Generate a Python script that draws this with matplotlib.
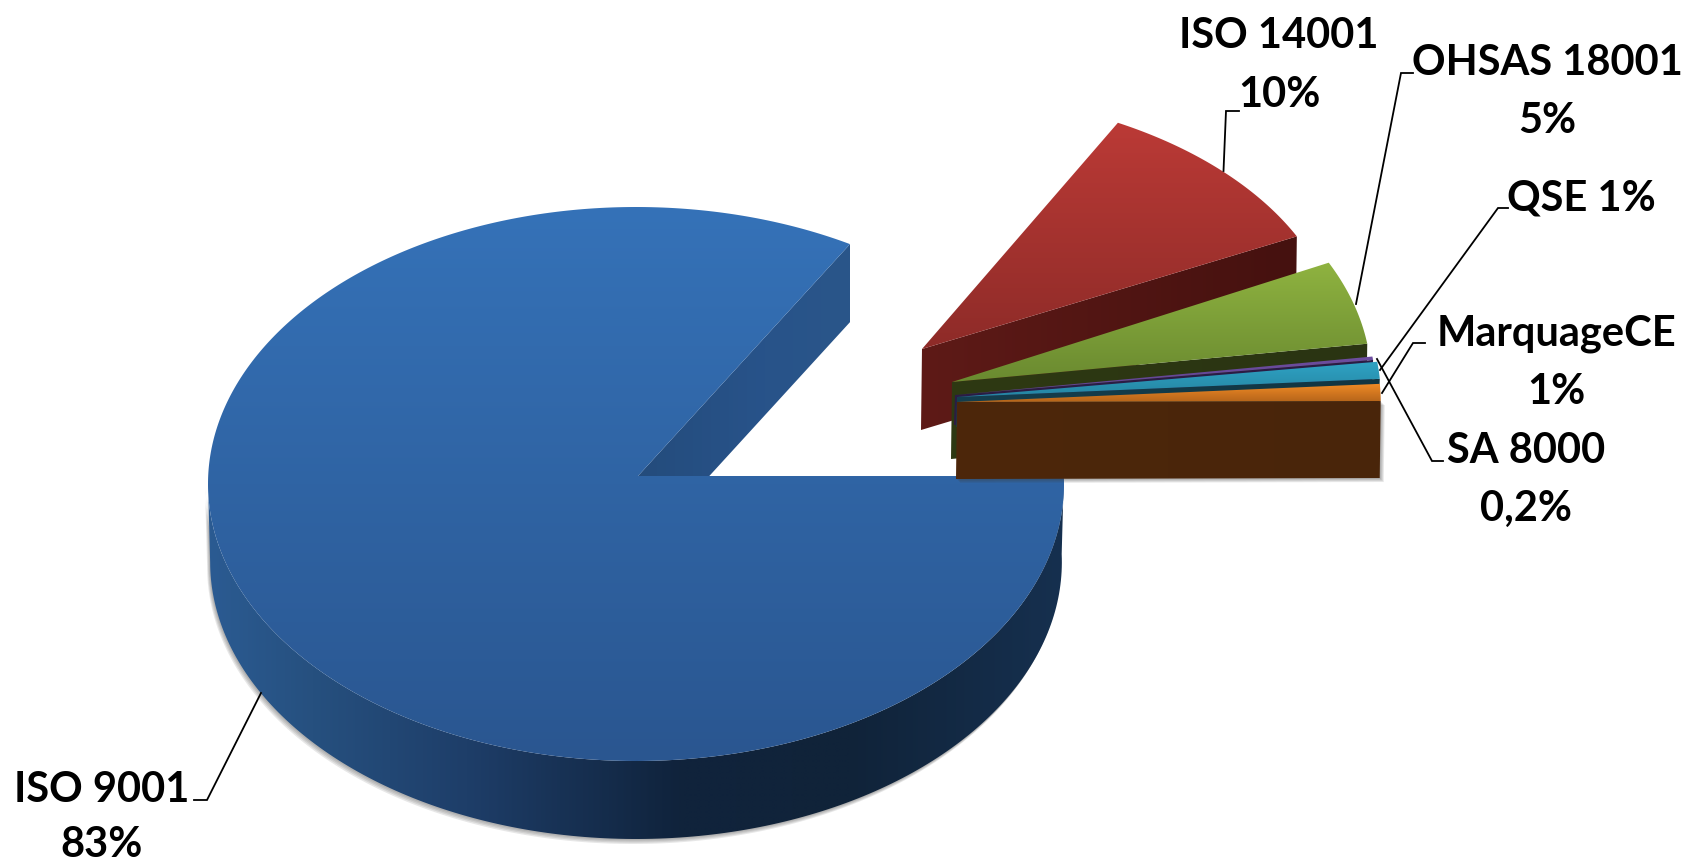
import numpy as np
import matplotlib
matplotlib.use("Agg")
import matplotlib.pyplot as plt
from matplotlib.colors import LinearSegmentedColormap
from matplotlib.patches import Polygon

# chart data, in the order of the slices
labels = ['ISO 9001', 'ISO 14001', 'OHSAS 18001', 'SA 8000', 'QSE', 'MarquageCE']
values = [83, 10, 5, 0.2, 1, 1]
value_labels = ['83%', '10%', '5%', '0,2%', '1%', '1%']

# look of the 3D pie, in image pixels
CX, CY = 636, 484
RX, RY = 428, 277
DEPTH = 78

plt.rcParams['font.family'] = ['Lato', 'DejaVu Sans']

fig = plt.figure(figsize=(16.86, 8.64), dpi=100)
ax = fig.add_axes([0, 0, 1, 1])
ax.set_xlim(0, 1686)
ax.set_ylim(864, 0)
ax.axis('off')
ax.autoscale(False)

z = [1]


def next_z():
    z[0] += 1
    return z[0]


def arc(x0, y0, a1, a2, sx=1.0, sy=1.0, n=200):
    t = np.radians(np.linspace(a1, a2, n))
    return np.column_stack([x0 + sx * RX * np.cos(t), y0 - sy * RY * np.sin(t)])


def fill_gradient(verts, stops, vertical=True):
    verts = np.asarray(verts)
    zo = next_z()
    poly = Polygon(verts, closed=True, fc='none', ec='none', zorder=zo)
    ax.add_patch(poly)
    cmap = LinearSegmentedColormap.from_list('g', stops)
    grad = np.linspace(0, 1, 400)
    grad = grad.reshape(-1, 1) if vertical else grad.reshape(1, -1)
    x0, y0 = verts.min(axis=0)
    x1, y1 = verts.max(axis=0)
    im = ax.imshow(grad, cmap=cmap, extent=[x0, x1, y1, y0], aspect='auto',
                   origin='upper', zorder=zo, interpolation='bilinear')
    im.set_clip_path(poly)


def shadow(verts, dx, dy):
    verts = np.asarray(verts)
    for k in range(1, 5):
        ax.add_patch(Polygon(verts + [dx * k / 4, dy * k / 4], closed=True, fc='#404040',
                             ec='none', alpha=0.12, zorder=next_z()))


total = sum(values)
sweeps = [v / total * 360 for v in values]

# big slice, it starts top right and runs counter clockwise on the picture
main_start = 60
main_end = 361.65
apex = np.array([638, 476])
tip = arc(CX, CY, main_start, main_start, n=1)[0]

rim_top = arc(CX, CY, 180, main_end)
rim_bottom = arc(CX, CY + DEPTH, main_end, 180, sx=0.995)
rim = np.vstack([rim_top, rim_bottom])
shadow(rim, -3, 5)

# wall of the cut, hidden in part by the top face
fill_gradient([apex, tip, tip + [0, DEPTH], apex + [0, DEPTH]],
              [(0, '#244c7c'), (0.6, '#28538a'), (1, '#2a5689')], vertical=False)
fill_gradient(rim, [(0, '#2b5b92'), (0.12, '#26507f'), (0.3, '#1e3e69'), (0.55, '#10233c'),
                    (0.75, '#102339'), (1, '#16304f')], vertical=False)
top = np.vstack([[apex], arc(CX, CY, main_start, main_end, n=400)])
fill_gradient(top, ['#3572b8', '#2a5690'])

# exploded slices: apex, scale and colours
slice_apex = [(922, 349), (952, 382), (955, 395), (957, 397), (957, 402)]
slice_sx = [0.975, 0.98, 0.985, 0.99, 0.99]
slice_sy = [0.925, 0.98, 0.985, 0.99, 0.99]
slice_depth = [81, 77, 30, 30, 77]
top_colors = [('#bb3a36', '#8e2b28'), ('#8fb340', '#6a8a30'), ('#6e4ea0', '#5e4290'),
              ('#2fa3c4', '#2585a2'), ('#f28c26', '#b5641a')]
wall_colors = [('#5e1a17', '#45110f'), ('#2e3913', '#2a3412'), ('#2b1c44', '#2b1c44'),
               ('#143f4f', '#123541'), ('#4d270b', '#49250a')]

angle = 62.0
for i in range(1, len(values)):
    a1 = angle
    a2 = angle - sweeps[i]
    angle = a2
    j = i - 1
    p = np.array(slice_apex[j], dtype=float)
    d = slice_depth[j]
    outer = arc(p[0], p[1], a1, a2, sx=slice_sx[j], sy=slice_sy[j], n=80)
    end = outer[-1]
    wall = [p, end, end + [-1, d], p + [-1, d]]
    if i == len(values) - 1:
        shadow(wall, 4, 4)
    fill_gradient(wall, list(wall_colors[j]), vertical=False)
    fill_gradient(np.vstack([[p], outer]), list(top_colors[j]))

# leader lines
leaders = [
    [(194, 800), (207, 800), (261, 693)],
    [(1239, 111), (1226, 111), (1223.5, 171)],
    [(1413, 73), (1401, 73), (1356, 304)],
    [(1443, 461), (1432, 461), (1377, 359)],
    [(1508, 208), (1498, 208), (1380, 370)],
    [(1425, 343), (1413, 343), (1382, 393)],
]
for pts in leaders:
    xs, ys = zip(*pts)
    ax.plot(xs, ys, color='black', lw=1.3, zorder=next_z(), solid_joinstyle='miter')

# labels: name on one line, percentage below (QSE has both on one line)
name_pos = [(102, 790), (1279, 36), (1547, 63), (1526, 451), (1581, 199), (1556, 334)]
value_pos = [(102, 845), (1279, 95), (1547, 121), (1526, 509), None, (1556, 392)]
for name, val, np_, vp in zip(labels, value_labels, name_pos, value_pos):
    if vp is None:
        ax.text(np_[0], np_[1], f'{name} {val}', ha='center', va='center', fontsize=30,
                fontweight='bold', color='black', zorder=next_z())
    else:
        ax.text(np_[0], np_[1], name, ha='center', va='center', fontsize=30,
                fontweight='bold', color='black', zorder=next_z())
        ax.text(vp[0], vp[1], val, ha='center', va='center', fontsize=30,
                fontweight='bold', color='black', zorder=next_z())

ax.set_xlim(0, 1686)
ax.set_ylim(864, 0)
fig.savefig('out.png', dpi=100, facecolor='white')
